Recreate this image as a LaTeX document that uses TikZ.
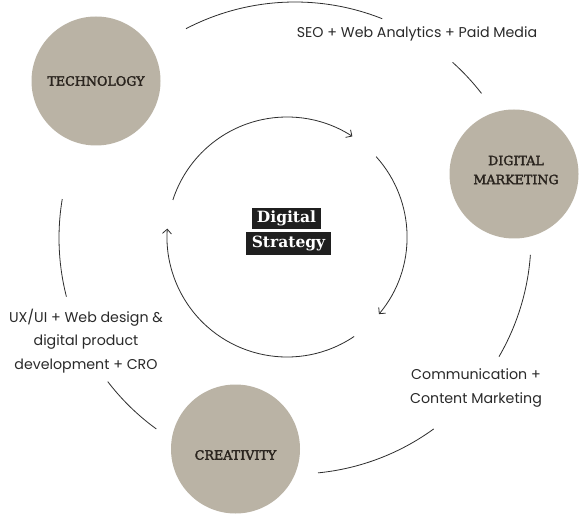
\documentclass[tikz,border=0pt]{standalone}
\usepackage{fontspec}
\setmainfont{Poppins}
\newfontfamily\slab{DejaVu Serif}[FakeBold=2.2]
\newfontfamily\slabb{DejaVu Serif}[BoldFont={DejaVu Serif Bold}]
\usetikzlibrary{arrows.meta}
\definecolor{hubfill}{HTML}{BAB3A5}
\definecolor{hubtext}{HTML}{2A241E}
\definecolor{linec}{HTML}{2E2E2E}
\definecolor{labeltext}{HTML}{2A2A2A}
\definecolor{tagfill}{HTML}{1F1F1F}
\begin{document}
\begin{tikzpicture}[x=1pt,y=-1pt,
  ring/.style={draw=linec, line width=0.8pt},
  flow/.style={ring, -{Straight Barb[length=4.5pt,width=9pt]}},
  hub/.style={circle, fill=hubfill, minimum size=129pt, inner sep=0pt},
  hubtxt/.style={font=\slab\fontsize{12.7}{19}\selectfont, text=hubtext, align=center},
  lbl/.style={font=\fontsize{14.2}{23.5}\selectfont, text=labeltext, align=center},
  tag/.style={fill=tagfill, text=white, font=\slabb\bfseries\fontsize{15.5}{16}\selectfont,
    inner sep=0pt}
]
\fill[white] (0,0) rectangle (580,526);
\useasboundingbox (0,0) rectangle (580,526);
\coordinate (ic) at (287,237);
\coordinate (oc) at (295,238);
% inner cycle
\draw[flow] ([shift={(-162:120)}]ic) arc[start angle=-162, end angle=-57, radius=120];
\draw[flow] ([shift={(-42:120)}]ic) arc[start angle=-42, end angle=40, radius=120];
\draw[flow] ([shift={(56:120)}]ic) arc[start angle=56, end angle=184, radius=120];
% outer ring segments
\draw[ring] ([shift={(-117.5:236)}]oc) arc[start angle=-117.5, end angle=-68.3, radius=236];
\draw[ring] ([shift={(-48.1:236)}]oc) arc[start angle=-48.1, end angle=-37.8, radius=236];
\draw[ring] ([shift={(4.1:236)}]oc) arc[start angle=4.1, end angle=30.2, radius=236];
\draw[ring] ([shift={(54:236)}]oc) arc[start angle=54, end angle=84.4, radius=236];
\draw[ring] ([shift={(126:236)}]oc) arc[start angle=126, end angle=142.5, radius=236];
\draw[ring] ([shift={(165.6:236)}]oc) arc[start angle=165.6, end angle=189.5, radius=236];
% hubs
\node[hub] (tech) at (96,81) {};
\node[hubtxt] (techt) at (96,81) {TECHNOLOGY};
\node[hub] (dm) at (514,174) {};
\node[hubtxt] (dmt) at (516,170) {DIGITAL\\MARKETING};
\node[hub] (crea) at (235.5,449) {};
\node[hubtxt] (creat) at (235.5,455) {CREATIVITY};
% labels
\node[lbl] (seo) at (417,34) {SEO + Web Analytics + Paid Media};
\node[lbl] (ux) at (86,341) {UX/UI + Web design \&\\digital product\\development + CRO};
\node[lbl] (comm) at (476,388) {Communication +\\Content Marketing};
% center
\node[tag, minimum width=69pt, minimum height=21pt] (dig) at (286.5,218.5) {Digital};
\node[tag, minimum width=85pt, minimum height=23pt] (strat) at (288.5,243.5) {Strategy};
\end{tikzpicture}
\end{document}
